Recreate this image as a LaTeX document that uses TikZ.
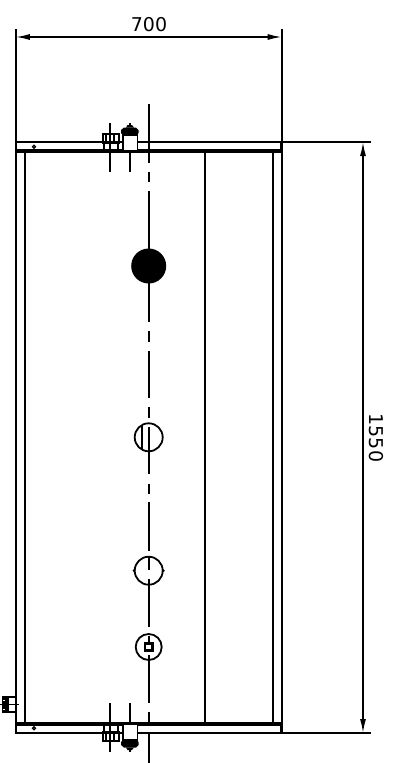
\documentclass[tikz,border=0pt]{standalone}
\usepackage{fontspec}
\setmainfont{DejaVu Sans}
\usetikzlibrary{arrows.meta}
\tikzset{
  part/.style={draw=black,line width=1.8pt},
  thin part/.style={draw=black,line width=1.7pt},
  heavy/.style={draw=black,line width=3.2pt},
  axis/.style={draw=black,line width=1.8pt},
  dim/.style={draw=black,line width=1.5pt,{Latex[length=14pt,width=6pt]}-{Latex[length=14pt,width=6pt]}},
  dimlabel/.style={inner sep=0pt,font=\fontsize{19}{19}\selectfont,text=black},
  bolts/.pic={
    % left bolt : striped nut on a collar
    \draw[thin part] (104,143) rectangle (118,151);
    \draw[part] (103,134) rectangle (119,143);
    \foreach \sx in {106,114} \draw[thin part] (\sx,134) -- (\sx,143);
    \draw[part] (110,123) -- (110,172);
    % right bolt : sleeve with black cap
    \draw[part,fill=white] (123,135) rectangle (137.5,151);
    \fill[black] (121,130) -- (124,127.5) -- (136,127.5) -- (138.5,130) -- (138.5,133) -- (137,135) -- (123,135) -- (121,133) -- cycle;
    \fill[black] (126,127.5) -- (127.5,125) -- (132,125) -- (134,127.5) -- cycle;
    \draw[part] (130,123) -- (130,127) (130,151) -- (130,172);
  }
}
\begin{document}
\begin{tikzpicture}[x=1pt,y=-1pt]
\useasboundingbox (0,0) rectangle (405,763);
\fill[white] (0,0) rectangle (405,763);
% named anchors
\coordinate (dimTL) at (15.8,37);
\coordinate (dimTR) at (281.7,37);
\coordinate (dimRT) at (363,142);
\coordinate (dimRB) at (363,733);
% extension lines
\draw[part] (15.8,29) -- (15.8,733);
\draw[part] (281.7,29) -- (281.7,733);
\draw[part] (15,142) -- (370.5,142);
\draw[part] (15,733) -- (370.5,733);
% frame
\draw[part] (25,151) -- (25,724);
\draw[part] (273,151) -- (273,724);
\draw[part] (205,151) -- (205,724);
\draw[heavy] (15,151) -- (282.5,151);
\draw[heavy] (15,724) -- (282.5,724);
\draw[heavy] (281.5,141) -- (281.5,152);
\draw[heavy] (281.5,723) -- (281.5,734);
\draw[line width=1.3pt] (34,146.7) circle (1.5);
\draw[line width=1.3pt] (34,728.3) circle (1.5);
% bolts
\pic at (0,0) {bolts};
\begin{scope}[yshift=-875pt,yscale=-1]
\pic[transform shape] at (0,0) {bolts};
\end{scope}
% side bolt
\draw[part] (9,697) -- (16,697) (9,712) -- (16,712);
\fill[black] (1.5,695.5) rectangle (9,713);
\foreach \yy in {700,709} \draw[white,line width=.6pt] (2.5,\yy) -- (5,\yy);
\draw[part] (0,704.5) -- (18.5,704.5);
% centre line
\foreach \a/\b in {104/163,172/182,191/322,331/342,351/398,407/418,427/474,484/494,502/551,557/570,579/627,636/646,655/703,712/724,732/763}
  \draw[axis] (148.8,\a) -- (148.8,\b);
% holes
\fill[black] (148.7,266) circle (17.5);
\draw[part] (148.7,437.3) circle (14);
\draw[part] (142,425) -- (142,449.6);
\draw[part] (148.7,570.7) circle (14);
\fill[black] (134,570.7) circle (1.5);
\fill[black] (163.4,570.7) circle (1.5);
\draw[part] (148.7,647) circle (13);
\draw[line width=2.2pt,fill=white] (145,643.5) rectangle (152.5,650.5);
% dimensions
\draw[dim] (dimTL) -- (dimTR);
\draw[dim] (dimRT) -- (dimRB);
\node[dimlabel] (w) at (149,24.5) {700};
\node[dimlabel,rotate=-90] (h) at (376.5,438) {1550};
\end{tikzpicture}
\end{document}
